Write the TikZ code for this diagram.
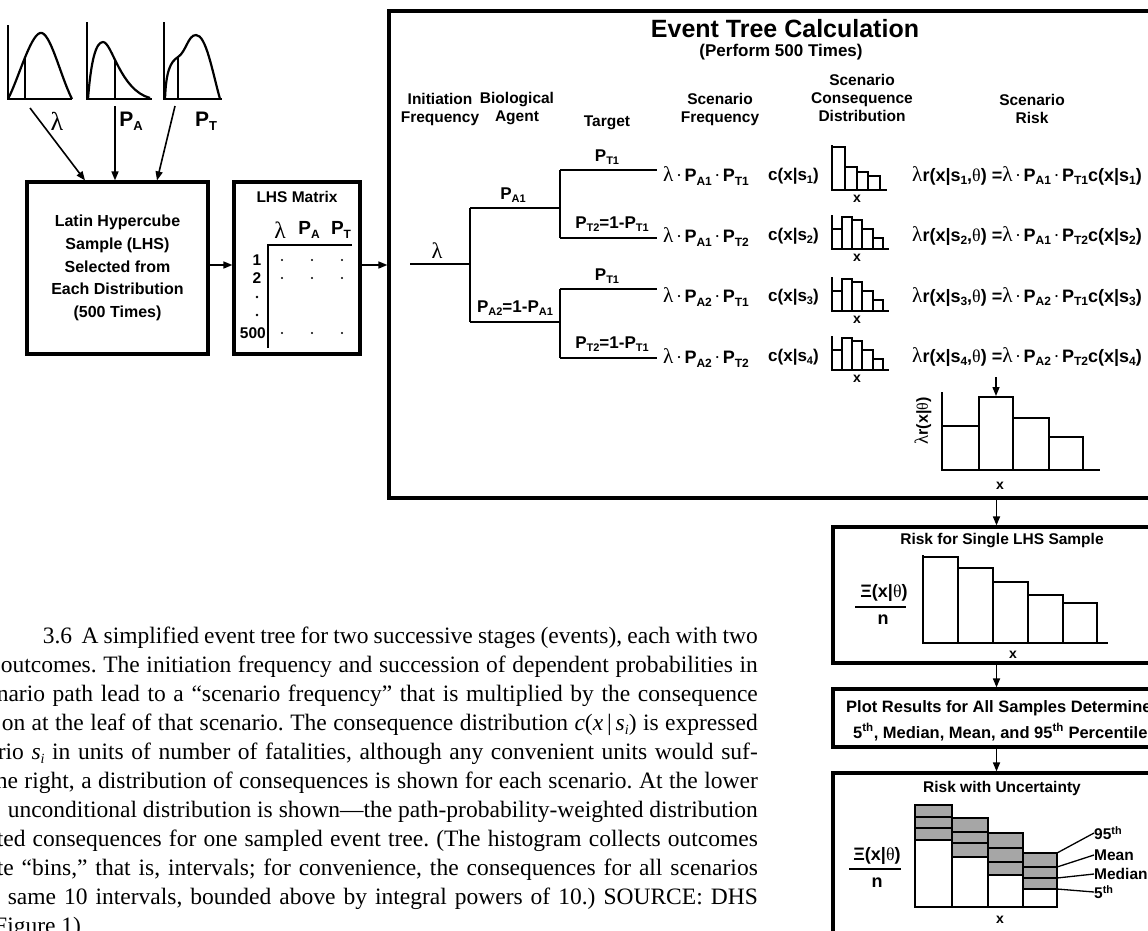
\documentclass[tikz,border=0pt]{standalone}
\usepackage{fontspec}
\setmainfont{Liberation Serif}
\newfontfamily\sff{Liberation Sans}
\newfontfamily\grk{Liberation Serif}
\usetikzlibrary{arrows.meta}
\newcommand\lam{\scalebox{1.18}{\grk\mdseries λ}}
\newcommand\thet{{\grk\mdseries θ}}
\newcommand\sbs[2][10]{\raisebox{-0.35ex}{\fontsize{#1}{#1}\selectfont #2}}
\newcommand\Pa[2][10]{P\sbs[#1]{#2}}
\newcommand\mdot{\hspace{2.5pt}{\grk\mdseries·}\hspace{2.5pt}}
\newcommand\capfont{\rmfamily\mdseries\fontsize{23.5}{29}\selectfont\frenchspacing}
\newcommand\capsub{\raisebox{-4pt}{\fontsize{14}{14}\selectfont\textit{i}}}
\begin{document}
\begin{tikzpicture}[x=1pt,y=-1pt,
  lbl/.style={font=\sff\bfseries\fontsize{15.5}{18}\selectfont, inner sep=0, align=center},
  tl/.style={font=\sff\bfseries\fontsize{17}{20}\selectfont, inner sep=0},
  expr/.style={font=\sff\bfseries\fontsize{18}{20}\selectfont, inner sep=0, anchor=west},
  xl/.style={font=\sff\bfseries\fontsize{14}{16}\selectfont, inner sep=0},
  bigbox/.style={draw, line width=3.2pt, inner sep=0},
  arr/.style={-{Triangle[length=9pt,width=7pt]}, line width=1.6pt},
  tline/.style={line width=2pt},
  axl/.style={line width=1.4pt},
  hist/.style={line width=1.3pt},
  bhist/.style={line width=2.6pt},
  curve/.style={line width=2.2pt},
  captxt/.style={font=\capfont, inner sep=0, anchor=base east}]
\useasboundingbox (0,0) rectangle (1148,930);
\clip (0,0) rectangle (1148,930);
\fill[white] (0,0) rectangle (1148,930);

% ---------- input distributions ----------
\draw[axl] (8,25)--(8,99)--(72,99);
\draw[curve] (8,99) .. controls (18,80) and (30,36) .. (40,33) .. controls (50,30) and (60,75) .. (72,99);
\draw[axl] (25,58)--(25,99);
\draw[axl] (87,22)--(87,99)--(152,99);
\draw[curve] (88,99) .. controls (91,60) and (96,42) .. (103,42) .. controls (112,42) and (120,90) .. (150,98);
\draw[axl] (115,59)--(115,99);
\draw[axl] (164,22)--(164,99)--(222,99);
\draw[curve] (165,99) .. controls (166,72) and (170,62) .. (178,57) .. controls (186,52) and (188,35) .. (196,35) .. controls (206,35) and (212,70) .. (220,99);
\draw[axl] (178,57)--(178,99);
\node[font=\sff\bfseries\fontsize{22}{22}\selectfont, inner sep=0] (dlam) at (57,121) {\lam};
\node[font=\sff\bfseries\fontsize{21}{21}\selectfont, inner sep=0] (dpa) at (131,121) {\Pa[13]{A}};
\node[font=\sff\bfseries\fontsize{21}{21}\selectfont, inner sep=0] (dpt) at (206,121) {\Pa[13]{T}};
\coordinate (sa) at (30,108);
\coordinate (sb) at (115,106);
\coordinate (sc) at (175,106);

% ---------- LHS sample box ----------
\node[bigbox, minimum width=181, minimum height=172] (sampbox) at (117.5,268) {};
\node[lbl, font=\sff\bfseries\fontsize{16}{22.7}\selectfont] (samptxt) at (117.5,268) {Latin Hypercube\\Sample (LHS)\\Selected from\\Each Distribution\\(500 Times)};
\draw[arr] (sa) -- ([xshift=-32.5pt]sampbox.north);
\draw[arr] (sb) -- ([xshift=-2.5pt]sampbox.north);
\draw[arr] (sc) -- ([xshift=39.5pt]sampbox.north);

% ---------- LHS matrix ----------
\node[bigbox, minimum width=126, minimum height=172] (lhsbox) at (297,268) {};
\node[lbl] (lhstitle) at (297,197) {LHS Matrix};
\node[font=\sff\bfseries\fontsize{20}{20}\selectfont, inner sep=0] (hl) at (280,230) {\lam};
\node[font=\sff\bfseries\fontsize{19}{19}\selectfont, inner sep=0] (hpa) at (309,230) {\Pa[12]{A}};
\node[font=\sff\bfseries\fontsize{19}{19}\selectfont, inner sep=0] (hpt) at (341,230) {\Pa[12]{T}};
\draw[axl] (268,348) -- (268,245) -- (352,245);
\node[lbl] (lr1) at (257,260) {1};
\node[lbl] (lr2) at (257,278) {2};
\fill (257,297) circle (1.4);
\fill (257,315) circle (1.4);
\node[lbl, anchor=east] (lr5) at (266,333) {500};
\foreach \x in {282,312,342}{\foreach \y in {260,278,333}{\fill (\x,\y) circle (1.2);}}
\draw[arr] ([yshift=3pt]sampbox.east) -- ([yshift=3pt]sampbox.east -| lhsbox.west);

% ---------- event tree box ----------
\node[bigbox, minimum width=771, minimum height=487] (etree) at (774.5,254.5) {};
\draw[arr] ([yshift=3pt]lhsbox.east) -- ([yshift=3pt]lhsbox.east -| etree.west);
\node[font=\sff\bfseries\fontsize{25}{28}\selectfont, inner sep=0] (ttl) at (785,29) {Event Tree Calculation};
\node[font=\sff\bfseries\fontsize{17}{20}\selectfont, inner sep=0] (ttlsub) at (781,52) {(Perform 500 Times)};
\node[lbl] (h1) at (440,109) {Initiation\\Frequency};
\node[lbl] (h2) at (517,109) {Biological\\Agent};
\node[lbl] (h3) at (607,123) {Target};
\node[lbl] (h4) at (720,109) {Scenario\\Frequency};
\node[lbl] (h5) at (862,98) {Scenario\\Consequence\\Distribution};
\node[lbl] (h6) at (1032,109) {Scenario\\Risk};

% tree
\coordinate (t0) at (410,264); \coordinate (t1) at (470,264);
\coordinate (a1) at (470,208); \coordinate (a2) at (470,322);
\coordinate (b1) at (560,208); \coordinate (b2) at (560,322);
\coordinate (c11) at (560,170); \coordinate (c12) at (560,238);
\coordinate (c21) at (560,289); \coordinate (c22) at (560,358);
\coordinate (e11) at (657,170); \coordinate (e12) at (657,238);
\coordinate (e21) at (657,289); \coordinate (e22) at (657,358);
\draw[tline] (t0)--(t1) (a1)--(a2) (a1)--(b1) (a2)--(b2);
\draw[tline] (c11)--(c12) (c11)--(e11) (c12)--(e12);
\draw[tline] (c21)--(c22) (c21)--(e21) (c22)--(e22);
\node[tl, font=\sff\bfseries\fontsize{19}{20}\selectfont] (llam) at (437,251) {\lam};
\node[tl] (lpa1) at (513,195) {\Pa[11]{A1}};
\node[tl] (lpa2) at (515,308) {\Pa[11]{A2}=1-\Pa[11]{A1}};
\node[tl] (lpt11) at (607,157) {\Pa[11]{T1}};
\node[tl] (lpt12) at (612,224) {\Pa[11]{T2}=1-\Pa[11]{T1}};
\node[tl] (lpt21) at (607,276) {\Pa[11]{T1}};
\node[tl] (lpt22) at (612,344) {\Pa[11]{T2}=1-\Pa[11]{T1}};

% scenario frequency
\node[expr] (f1) at (663,176) {\lam\mdot\Pa[12]{A1}\mdot\Pa[12]{T1}};
\node[expr] (f2) at (663,237) {\lam\mdot\Pa[12]{A1}\mdot\Pa[12]{T2}};
\node[expr] (f3) at (663,297) {\lam\mdot\Pa[12]{A2}\mdot\Pa[12]{T1}};
\node[expr] (f4) at (663,358) {\lam\mdot\Pa[12]{A2}\mdot\Pa[12]{T2}};

% consequence distributions
\node[expr, font=\sff\bfseries\fontsize{17}{20}\selectfont] (cc1) at (768,176) {c(x|s\sbs[11]{1})};
\node[expr, font=\sff\bfseries\fontsize{17}{20}\selectfont] (cc2) at (768,236) {c(x|s\sbs[11]{2})};
\node[expr, font=\sff\bfseries\fontsize{17}{20}\selectfont] (cc3) at (768,297) {c(x|s\sbs[11]{3})};
\node[expr, font=\sff\bfseries\fontsize{17}{20}\selectfont] (cc4) at (768,357) {c(x|s\sbs[11]{4})};
\draw[hist] (832,145)--(832,190)--(887,190);
\draw[hist] (832,190) rectangle (845,147) (845,190) rectangle (857,167) (857,190) rectangle (868,172) (868,190) rectangle (880,176);
\node[xl] (xs1) at (857,199) {x};
\foreach \b/\i in {249/2,311/3,370/4}{
  \draw[hist] (832,\b-34)--(832,\b)--(889,\b);
  \draw[hist] (832,\b) rectangle (842,\b-20) (842,\b) rectangle (852,\b-32) (852,\b) rectangle (862,\b-29) (862,\b) rectangle (873,\b-20) (873,\b) rectangle (883,\b-11);
  \node[xl] (xs\i) at (857,\b+9) {x};
}

% scenario risk
\node[expr] (rk1) at (912,176) {\lam r(x|s\sbs[12]{1},\thet) =\lam\mdot\Pa[12]{A1}\mdot\Pa[12]{T1}c(x|s\sbs[12]{1})};
\node[expr] (rk2) at (912,236) {\lam r(x|s\sbs[12]{2},\thet) =\lam\mdot\Pa[12]{A1}\mdot\Pa[12]{T2}c(x|s\sbs[12]{2})};
\node[expr] (rk3) at (912,297) {\lam r(x|s\sbs[12]{3},\thet) =\lam\mdot\Pa[12]{A2}\mdot\Pa[12]{T1}c(x|s\sbs[12]{3})};
\node[expr] (rk4) at (912,357) {\lam r(x|s\sbs[12]{4},\thet) =\lam\mdot\Pa[12]{A2}\mdot\Pa[12]{T2}c(x|s\sbs[12]{4})};
\coordinate (ha) at (996,377);
\coordinate (hb) at (996,396);
\draw[arr, line width=1.4pt] (ha) -- (hb);

% combined histogram
\draw[axl] (942,392)--(942,470)--(1100,470);
\draw[bhist] (942,470) rectangle (979,426) (979,470) rectangle (1013,397) (1013,470) rectangle (1049,418) (1049,470) rectangle (1083,437);
\node[xl] (xbig) at (1000,486) {x};
\node[font=\sff\bfseries\fontsize{16}{16}\selectfont, rotate=90, inner sep=0] (ylab) at (923,421) {\lam r(x|\thet)};

% ---------- risk for single sample ----------
\node[bigbox, minimum width=327, minimum height=136] (bx2) at (996.5,595) {};
\draw[arr] (bx2.north |- etree.south) -- (bx2.north);
\node[lbl] (bx2t) at (1002,541) {Risk for Single LHS Sample};
\node[font=\sff\bfseries\fontsize{18}{18}\selectfont, inner sep=0] (fr1) at (884,593) {Ξ(x|\thet)};
\coordinate (fb1a) at (855,607); \coordinate (fb1b) at (906,607);
\draw[axl] (fb1a) -- (fb1b);
\node[font=\sff\bfseries\fontsize{18}{18}\selectfont, inner sep=0] (fn1) at (883,620) {n};
\draw[axl] (923,555)--(923,643)--(1108,643);
\draw[bhist] (923,643) rectangle (958,557) (958,643) rectangle (993,568) (993,643) rectangle (1028,582) (1028,643) rectangle (1063,595) (1063,643) rectangle (1097,603);
\node[xl] (xb2) at (1013,655) {x};

% ---------- plot results ----------
\node[bigbox, minimum width=327, minimum height=58] (bx3) at (996.5,718) {};
\draw[arr] (bx3.north |- bx2.south) -- (bx3.north);
\node[lbl, anchor=west, font=\sff\bfseries\fontsize{16.5}{18}\selectfont] (bx3a) at (846,708) {Plot Results for All Samples Determine};
\node[lbl, anchor=west, font=\sff\bfseries\fontsize{16.5}{18}\selectfont] (bx3b) at (853,732) {5\textsuperscript{th}, Median, Mean, and 95\textsuperscript{th} Percentile};

% ---------- risk with uncertainty ----------
\node[bigbox, minimum width=327, minimum height=178] (bx4) at (996.5,862) {};
\draw[arr] (bx4.north |- bx3.south) -- (bx4.north);
\node[lbl] (bx4t) at (1002,788) {Risk with Uncertainty};
\node[font=\sff\bfseries\fontsize{18}{18}\selectfont, inner sep=0] (fr2) at (877,856) {Ξ(x|\thet)};
\coordinate (fb2a) at (849,869); \coordinate (fb2b) at (901,869);
\draw[axl] (fb2a) -- (fb2b);
\node[font=\sff\bfseries\fontsize{18}{18}\selectfont, inner sep=0] (fn2) at (877,883) {n};
\fill[black!35] (915,805) rectangle (952,840) (952,818) rectangle (988,857) (988,833) rectangle (1023,875) (1023,853) rectangle (1057,889);
\draw[hist] (915,817)--(952,817) (915,828)--(952,828) (915,840)--(952,840);
\draw[hist] (952,832)--(988,832) (952,843)--(988,843) (952,857)--(988,857);
\draw[hist] (988,848)--(1023,848) (988,862)--(1023,862) (988,875)--(1023,875);
\draw[hist] (1023,867)--(1057,867) (1023,878)--(1057,878) (1023,889)--(1057,889);
\draw[bhist] (915,907) rectangle (952,805) (952,907) rectangle (988,818) (988,907) rectangle (1023,833) (1023,907) rectangle (1057,853);
\node[xl] (xb3) at (1000,920) {x};
\node[lbl, anchor=west] (l95) at (1094,833) {95\textsuperscript{th}};
\node[lbl, anchor=west] (lmean) at (1094,855) {Mean};
\node[lbl, anchor=west] (lmed) at (1094,874) {Median};
\node[lbl, anchor=west] (l5) at (1094,892) {5\textsuperscript{th}};
\coordinate (q95) at (1057,853); \coordinate (qmean) at (1057,867);
\coordinate (qmed) at (1057,878); \coordinate (q5) at (1057,889);
\draw[hist] (q95) -- (l95.west);
\draw[hist] (qmean) -- (lmean.west);
\draw[hist] (qmed) -- (lmed.west);
\draw[hist] (q5) -- (l5.west);

% ---------- caption ----------
\node[captxt] (cap1) at (758,643) {\hbox to 715pt{3.6\hspace{0.4em}A simplified event tree for two successive stages (events), each with two}};
\node[captxt] (cap2) at (758,672) {\hbox to 757pt{outcomes. The initiation frequency and succession of dependent probabilities in}};
\node[captxt] (cap3) at (758,701) {\hbox to 761pt{nario path lead to a “scenario frequency” that is multiplied by the consequence}};
\node[captxt] (cap4) at (758,730) {\hbox to 756pt{on at the leaf of that scenario. The consequence distribution \textit{c}(\textit{x}\,|\,\textit{s}\capsub) is expressed}};
\node[captxt] (cap5) at (758,759) {\hbox to 760pt{rio \textit{s}\capsub{} in units of number of fatalities, although any convenient units would suf-}};
\node[captxt] (cap6) at (758,788) {\hbox to 762pt{he right, a distribution of consequences is shown for each scenario. At the lower}};
\node[captxt] (cap7) at (758,817) {\hbox to 750pt{unconditional distribution is shown—the path-probability-weighted distribution}};
\node[captxt] (cap8) at (758,846) {\hbox to 761pt{ted consequences for one sampled event tree. (The histogram collects outcomes}};
\node[captxt] (cap9) at (758,875) {\hbox to 761pt{te “bins,” that is, intervals; for convenience, the consequences for all scenarios}};
\node[captxt] (cap10) at (758,904) {\hbox to 750pt{same 10 intervals, bounded above by integral powers of 10.) SOURCE: DHS}};
\node[captxt, anchor=base west] (cap11) at (-6,933) {Figure 1)};
\end{tikzpicture}
\end{document}
